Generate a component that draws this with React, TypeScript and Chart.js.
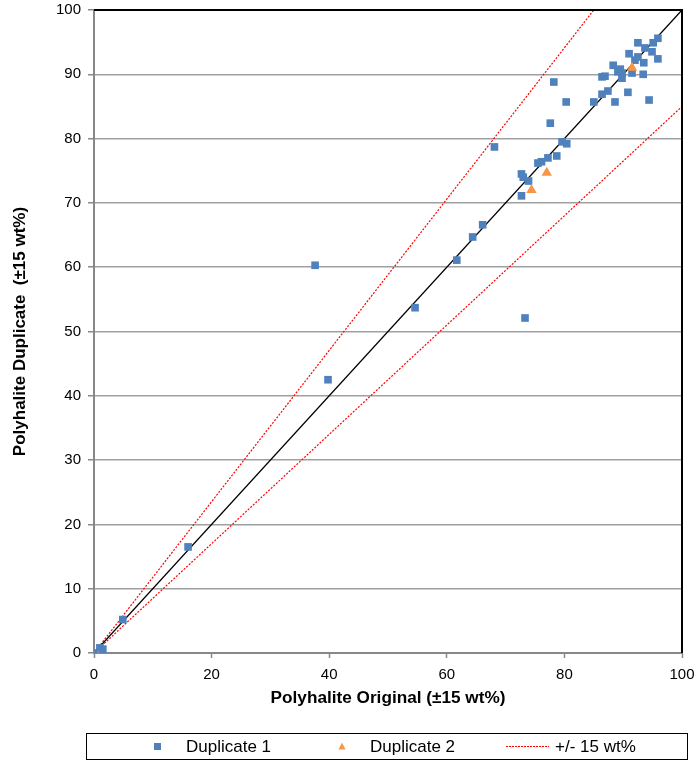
import React, { useEffect, useRef } from "react";
import { Chart, registerables } from "chart.js";

Chart.register(...registerables);

// Duplicate 1 (blue squares)
const dup1X = [0, 1.0, 1.5, 4.9, 16.0, 37.6, 39.8, 54.6, 61.7, 64.4, 66.1, 68.1, 72.7, 73.0, 73.9, 72.7, 73.3, 75.5, 76.1, 77.2, 78.7, 79.6, 80.4, 77.6, 78.2, 80.3, 85.0, 88.6, 94.4, 86.4, 87.4, 90.8, 89.8, 86.4, 86.9, 93.4, 91.5, 89.8, 89.1, 89.5, 88.3, 92.0, 93.5, 95.9, 92.5, 91.0, 94.9, 93.7, 92.5, 95.1, 95.9];
const dup1Y = [0, 0.8, 0.6, 5.2, 16.5, 60.3, 42.5, 53.7, 61.1, 64.7, 66.6, 78.7, 74.5, 74.0, 73.4, 71.1, 52.1, 76.2, 76.4, 77.0, 77.3, 79.5, 79.2, 82.4, 88.8, 85.7, 85.7, 85.7, 86.0, 86.9, 87.4, 87.2, 89.4, 89.6, 89.7, 90.0, 90.2, 90.2, 90.4, 90.8, 91.4, 92.2, 91.8, 92.4, 92.7, 93.2, 93.5, 94.1, 94.9, 94.9, 95.6];

// Duplicate 2 (orange triangles)
const dup2X = [74.4, 77.0, 91.5];
const dup2Y = [72.0, 74.7, 91.0];

// 1:1 line
const oneToOneX = [0, 100];
const oneToOneY = [0, 100];
// +/- 15 wt% lines
const upperX = [0, 85];
const upperY = [0, 100];
const lowerX = [0, 100];
const lowerY = [0, 85];

const xTitle = "Polyhalite Original (±15 wt%)";
const yTitle = "Polyhalite Duplicate  (±15 wt%)";
const legendLabels = ["Duplicate 1", "Duplicate 2", "+/- 15 wt%"];

const FONT = "'Liberation Sans', Arial, sans-serif";
const BLUE = "#4f81bd";
const ORANGE = "#f79646";
const RED = "#ff0000";

const zip = (xs: number[], ys: number[]) => xs.map((x, i) => ({ x, y: ys[i] }));

const framePlugin = {
  id: "frame",
  afterDraw(chart: any) {
    const { ctx, chartArea } = chart;
    ctx.save();
    // black top/right border of plot area
    ctx.strokeStyle = "#000";
    ctx.lineWidth = 2;
    ctx.beginPath();
    ctx.moveTo(chartArea.left, chartArea.top);
    ctx.lineTo(chartArea.right, chartArea.top);
    ctx.lineTo(chartArea.right, chartArea.bottom);
    ctx.stroke();

    // legend box
    const lx = 86.5, ly = 733.5, lw = 601, lh = 26;
    ctx.fillStyle = "#fff";
    ctx.fillRect(lx, ly, lw, lh);
    ctx.strokeStyle = "#000";
    ctx.lineWidth = 1;
    ctx.strokeRect(lx, ly, lw, lh);
    const cy = ly + lh / 2;
    ctx.font = `17px ${FONT}`;
    ctx.textBaseline = "middle";
    ctx.textAlign = "left";
    // item 1: square
    ctx.fillStyle = BLUE;
    ctx.fillRect(154, cy - 3.5, 7, 7);
    ctx.fillStyle = "#000";
    ctx.fillText(legendLabels[0], 186, cy + 1);
    // item 2: triangle
    ctx.fillStyle = ORANGE;
    ctx.beginPath();
    ctx.moveTo(342, cy - 4);
    ctx.lineTo(345.5, cy + 3);
    ctx.lineTo(338.5, cy + 3);
    ctx.closePath();
    ctx.fill();
    ctx.fillStyle = "#000";
    ctx.fillText(legendLabels[1], 370, cy + 1);
    // item 3: dashed line
    ctx.strokeStyle = RED;
    ctx.lineWidth = 1;
    ctx.setLineDash([2, 1]);
    ctx.beginPath();
    ctx.moveTo(506, cy);
    ctx.lineTo(549, cy);
    ctx.stroke();
    ctx.setLineDash([]);
    ctx.fillStyle = "#000";
    ctx.fillText(legendLabels[2], 555, cy + 1);
    ctx.restore();
  },
};

export default function App() {
  const ref = useRef<HTMLCanvasElement | null>(null);

  useEffect(() => {
    if (!ref.current) return;
    const chart = new Chart(ref.current, {
      type: "scatter",
      data: {
        datasets: [
          {
            label: legendLabels[0],
            data: zip(dup1X, dup1Y),
            pointStyle: "rect",
            pointRadius: 5.4,
            backgroundColor: BLUE,
            borderColor: BLUE,
            borderWidth: 0,
            order: 1,
          },
          {
            label: legendLabels[1],
            data: zip(dup2X, dup2Y),
            pointStyle: "triangle",
            pointRadius: 6,
            backgroundColor: ORANGE,
            borderColor: ORANGE,
            borderWidth: 0,
            order: 0,
          },
          {
            type: "line",
            label: "1:1",
            data: zip(oneToOneX, oneToOneY),
            borderColor: "#000",
            borderWidth: 1.3,
            pointRadius: 0,
            showLine: true,
            fill: false,
            order: 3,
          },
          {
            type: "line",
            label: legendLabels[2],
            data: zip(upperX, upperY),
            borderColor: RED,
            borderWidth: 1.2,
            borderDash: [2, 1.5],
            pointRadius: 0,
            showLine: true,
            fill: false,
            order: 4,
          },
          {
            type: "line",
            label: legendLabels[2] + " low",
            data: zip(lowerX, lowerY),
            borderColor: RED,
            borderWidth: 1.2,
            borderDash: [2, 1.5],
            pointRadius: 0,
            showLine: true,
            fill: false,
            order: 5,
          },
        ],
      } as any,
      options: {
        responsive: false,
        animation: false,
        layout: { padding: { left: 0, right: 15, top: 10, bottom: 0 } },
        plugins: {
          legend: { display: false },
          tooltip: { enabled: false },
        },
        scales: {
          x: {
            type: "linear",
            min: 0,
            max: 100,
            afterFit: (s: any) => {
              s.height = 108;
              s.paddingLeft = 0;
              s.paddingRight = 0;
            },
            ticks: {
              stepSize: 20,
              padding: 8,
              color: "#000",
              font: { family: FONT, size: 15 },
            },
            grid: {
              drawOnChartArea: false,
              drawTicks: true,
              tickLength: 5,
              tickColor: "#888",
              tickWidth: 1.5,
            },
            border: { display: true, color: "#888", width: 2 },
            title: {
              display: true,
              text: xTitle,
              color: "#000",
              font: { family: FONT, size: 17.2, weight: "bold" },
              padding: { top: 0, bottom: 52 },
            },
          },
          y: {
            type: "linear",
            min: 0,
            max: 100,
            afterFit: (s: any) => {
              s.width = 94;
              s.paddingTop = 0;
              s.paddingBottom = 0;
            },
            ticks: {
              stepSize: 10,
              padding: 7,
              color: "#000",
              font: { family: FONT, size: 15 },
            },
            grid: {
              color: "#a0a0a0",
              lineWidth: 1.5,
              drawTicks: true,
              tickLength: 6,
              tickColor: "#888",
              tickWidth: 1.5,
            },
            border: { display: true, color: "#888", width: 2 },
            title: {
              display: true,
              text: yTitle,
              color: "#000",
              font: { family: FONT, size: 17, weight: "bold" },
              padding: { top: 10, bottom: 0 },
            },
          },
        },
      } as any,
      plugins: [framePlugin],
    });
    return () => chart.destroy();
  }, []);

  return (
    <div style={{ position: "absolute", left: 0, top: 0, width: 697, height: 761, background: "#fff" }}>
      <canvas ref={ref} width={697} height={761} style={{ width: 697, height: 761, display: "block" }} />
    </div>
  );
}
